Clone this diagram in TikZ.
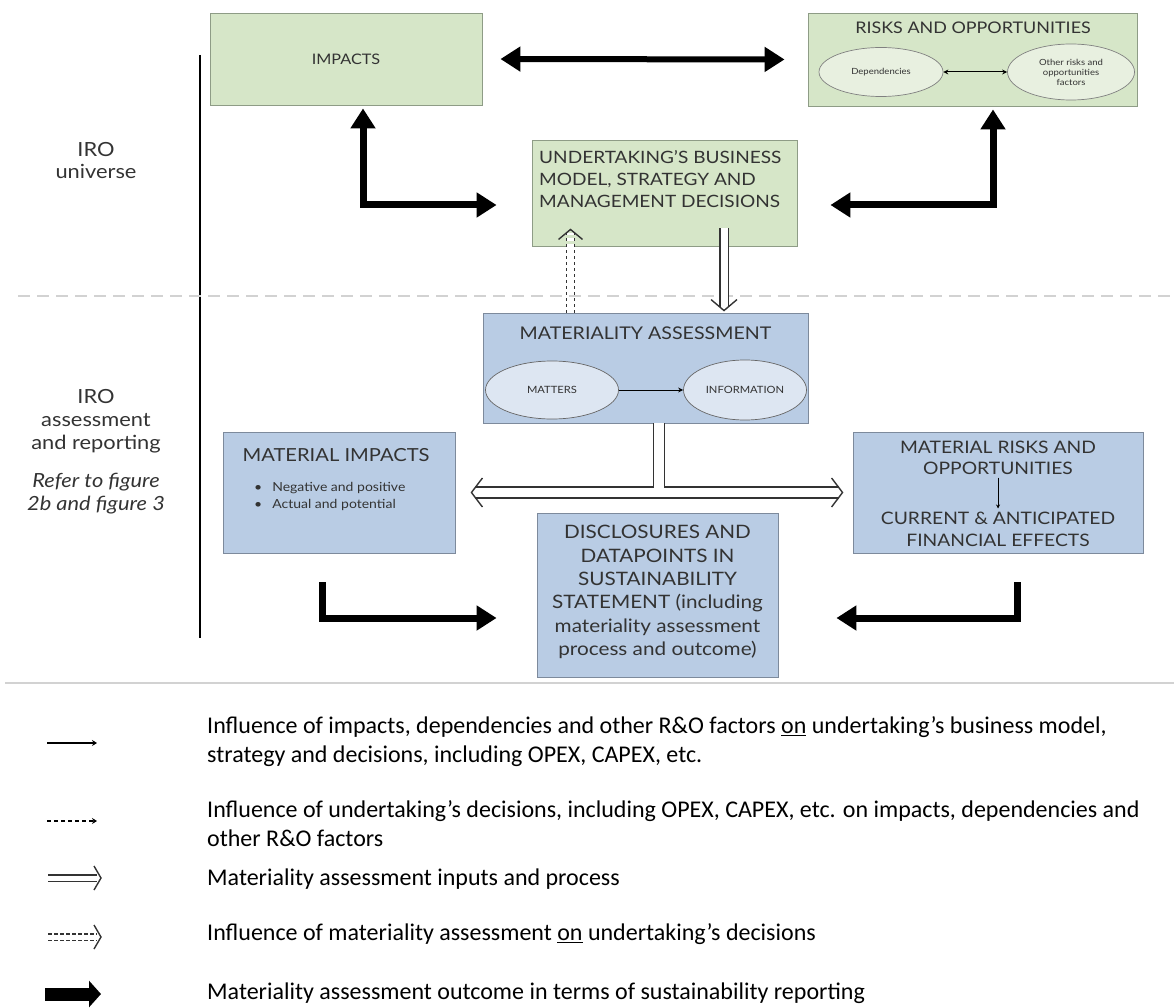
\documentclass[tikz,border=0pt]{standalone}
\usepackage{fontspec}
\setmainfont{Lato}[FakeStretch=1.12]
\newfontfamily\legendfont{Carlito}
\usetikzlibrary{arrows.meta,calc,positioning,shapes.geometric}

\definecolor{boxgreen}{HTML}{D6E6C8}
\definecolor{linegreen}{HTML}{8E9C86}
\definecolor{boxblue}{HTML}{B9CCE4}
\definecolor{lineblue}{HTML}{7D8A9C}
\definecolor{ellgreen}{HTML}{E8F0E0}
\definecolor{ellblue}{HTML}{DDE6F2}
\definecolor{textgray}{HTML}{333333}
\definecolor{rulegray}{HTML}{D2D2D2}

\tikzset{
  gbox/.style={draw=linegreen, fill=boxgreen, line width=0.9pt},
  bbox/.style={draw=lineblue, fill=boxblue, line width=0.9pt},
  gell/.style={ellipse, draw=gray, fill=ellgreen, line width=0.7pt, inner sep=0pt, text=textgray, font=\fontsize{8.5}{10}\selectfont},
  bell/.style={ellipse, draw=gray!80!black, fill=ellblue, line width=0.7pt, inner sep=0pt, text=textgray, font=\fontsize{10}{12}\selectfont},
  boxtext/.style={text=textgray, align=center, inner sep=0pt},
  bigarrow/.style={line width=7pt, arrows={-Triangle[length=20pt,width=24pt]}},
  smallarrow/.style={line width=1pt, arrows={-Stealth[length=5pt,width=5pt]}},
  dbl/.style={double=white, double distance=7pt, line width=1.3pt, draw=black!80},
  pics/chevron/.style args={#1/#2}{code={\draw[line width=1.4pt, black!80, line join=miter] (-#1,-#2) -- (0,0) -- (-#1,#2);}},
  legtext/.style={anchor=west, align=left, inner sep=0pt, font=\legendfont\fontsize{24}{29}\selectfont}
}

\begin{document}
\begin{tikzpicture}[x=1pt, y=-1pt]
\useasboundingbox (0,0) rectangle (1174,1008);

% side labels and dividers
\draw[line width=1.5pt] (200,55) -- (200,638);
\draw[rulegray, line width=2pt, dash pattern=on 12pt off 7pt] (18,296) -- (1174,296);
\draw[rulegray, line width=2pt] (5,683) -- (1174,683);
\node[boxtext, font=\fontsize{19.5}{22}\selectfont] (universe) at (96,161) {IRO\\universe};
\node[boxtext, font=\fontsize{19.5}{23}\selectfont] (assess) at (96,421) {IRO\\assessment\\and reporting};
\node[boxtext, font=\itshape\fontsize{19.5}{23}\selectfont] (refer) at (96,494) {Refer to figure\\2b and figure 3};

% IRO universe
\node[gbox, minimum width=272pt, minimum height=92pt, boxtext, font=\fontsize{14.5}{18}\selectfont] (imp) at (346,59) {IMPACTS};
\node[gbox, minimum width=329pt, minimum height=93pt] (ro) at (972.5,59.5) {};
\node[boxtext, font=\fontsize{16}{19}\selectfont] (rotitle) at (973,28) {RISKS AND OPPORTUNITIES};
\node[gell, minimum width=124pt, minimum height=49pt] (dep) at (881,72) {Dependencies};
\node[gell, minimum width=127pt, minimum height=56pt, align=center] (oth) at (1071,72) {Other risks and\\opportunities\\factors};
\draw[line width=1pt, arrows={Stealth[length=5pt,width=5pt]-Stealth[length=5pt,width=5pt]}] (dep) -- (oth);

\node[gbox, minimum width=265pt, minimum height=106pt] (ubm) at (664.5,193) {};
\node[boxtext, anchor=north west, align=left, font=\fontsize{17}{22}\selectfont] (ubmtext) at (539,150) {UNDERTAKING’S BUSINESS\\MODEL, STRATEGY AND\\MANAGEMENT DECISIONS};

\draw[line width=6pt, arrows={Triangle[length=20pt,width=24pt]-Triangle[length=20pt,width=24pt]}, shorten <=18pt, shorten >=23pt] (imp.east) -- (ro.west);
\draw[bigarrow, arrows={Triangle[length=20pt,width=24pt]-Triangle[length=20pt,width=24pt]}] ($(imp.south)+(17,3)$) |- ($(ubm.west)+(-35,12)$);
\draw[bigarrow, arrows={Triangle[length=20pt,width=24pt]-Triangle[length=20pt,width=24pt]}] ($(ro.south)+(20.5,3)$) |- ($(ubm.east)+(33,12)$);

% assessment and reporting
\node[bbox, minimum width=325pt, minimum height=110pt] (ma) at (645.5,368) {};
\node[boxtext, font=\fontsize{17.5}{20}\selectfont] (matitle) at (645.5,333) {MATERIALITY ASSESSMENT};
\node[bell, minimum width=133pt, minimum height=58pt] (matters) at (552,390) {MATTERS};
\node[bell, minimum width=123pt, minimum height=60pt] (info) at (745,390) {INFORMATION};
\draw[smallarrow] (matters) -- (info);

% double connectors between the two boxes
\draw[dbl, dashed, shorten >=4pt] ($(ma.north)+(-75,0)$) -- ($(ubm.south)+(-94,-17)$);
\pic[rotate=90] at ($(ubm.south)+(-94,-17)$) {chevron=10/12};
\draw[dbl, shorten >=4pt] ($(ubm.south)+(59.5,-18)$) -- ($(ma.north)+(78.5,-2)$);
\pic[rotate=-90] at ($(ma.north)+(78.5,-2)$) {chevron=11/13};

\node[bbox, minimum width=232pt, minimum height=121pt] (mi) at (339,492.5) {};
\node[boxtext, font=\fontsize{18}{20}\selectfont] (mititle) at (336,455) {MATERIAL IMPACTS};
\node[boxtext, anchor=west, align=left, font=\fontsize{12.5}{17}\selectfont] (mibullets) at (254,496) {\textbullet\hspace{10pt}Negative and positive\\\textbullet\hspace{10pt}Actual and potential};

\node[bbox, minimum width=290pt, minimum height=121pt] (mro) at (998,492.5) {};
\node[boxtext, font=\fontsize{17.2}{21}\selectfont] (mrotop) at (998,457.5) {MATERIAL RISKS AND\\OPPORTUNITIES};
\node[boxtext, font=\fontsize{17.2}{22}\selectfont] (mrobottom) at (998,529) {CURRENT \& ANTICIPATED\\FINANCIAL EFFECTS};
\draw[line width=1pt, arrows={-Stealth[length=4pt,width=4pt]}, shorten <=3pt, shorten >=3pt] (mrotop) -- (mrobottom);

\node[bbox, minimum width=241pt, minimum height=164pt] (disc) at (657.5,595) {};
\node[boxtext, font=\fontsize{18.5}{23.4}\selectfont] (disctext) at (657.5,592) {DISCLOSURES AND\\DATAPOINTS IN\\SUSTAINABILITY\\STATEMENT (including\\materiality assessment\\process and outcome)};

\draw[dbl, double distance=9.7pt, shorten <=20pt, shorten >=14pt] (mi.east) -- (mro.west);
\draw[dbl, double distance=9.7pt] ($(ma.south)+(13.5,0)$) -- ($(ma.south)+(13.5,64.6)$);
\pic[rotate=180] at ($(mi.east)+(16,0)$) {chevron=11/14.5};
\pic at ($(mro.west)+(-10,0)$) {chevron=11/14.5};

\draw[bigarrow] ($(mi.south)+(-17,29)$) |- ($(disc.west)+(-40,23)$);
\draw[bigarrow] ($(mro.south)+(19,29)$) |- ($(disc.east)+(58,23)$);

% legend
\coordinate (l1a) at (47,743);  \coordinate (l1b) at (97,743);
\coordinate (l2a) at (47,821);  \coordinate (l2b) at (97,821);
\coordinate (l3a) at (48,878);  \coordinate (l3b) at (101,878);
\coordinate (l4a) at (48,937);  \coordinate (l4b) at (101,937);
\coordinate (l5a) at (45,994);  \coordinate (l5b) at (101,994);
\draw[line width=1.6pt, arrows={-Stealth[length=5pt,width=6pt]}] (l1a) -- (l1b);
\draw[line width=1.6pt, dash pattern=on 4pt off 3pt, arrows={-Stealth[length=5pt,width=6pt]}] (l2a) -- (l2b);
\draw[dbl, double distance=5pt, line width=1.6pt, shorten >=4pt] (l3a) -- (l3b);
\pic at (l3b) {chevron=7/12};
\draw[dbl, double distance=5pt, line width=1.6pt, dash pattern=on 4pt off 2pt, shorten >=4pt] (l4a) -- (l4b);
\pic at (l4b) {chevron=7/12};
\draw[line width=13pt, arrows={-Triangle[length=12pt,width=26pt]}] (l5a) -- (l5b);

\node[legtext] (leg1) at (207,742) {Influence of impacts, dependencies and other R\&O factors \underline{on} undertaking’s business model,\\strategy and decisions, including OPEX, CAPEX, etc.};
\node[legtext] (leg2) at (207,824) {Influence of undertaking’s decisions, including OPEX, CAPEX, etc. on impacts, dependencies and\\other R\&O factors};
\node[legtext] (leg3) at (207,879) {Materiality assessment inputs and process};
\node[legtext] (leg4) at (207,934) {Influence of materiality assessment \underline{on} undertaking’s decisions};
\node[legtext] (leg5) at (207,993) {Materiality assessment outcome in terms of sustainability reporting};
\end{tikzpicture}
\end{document}
